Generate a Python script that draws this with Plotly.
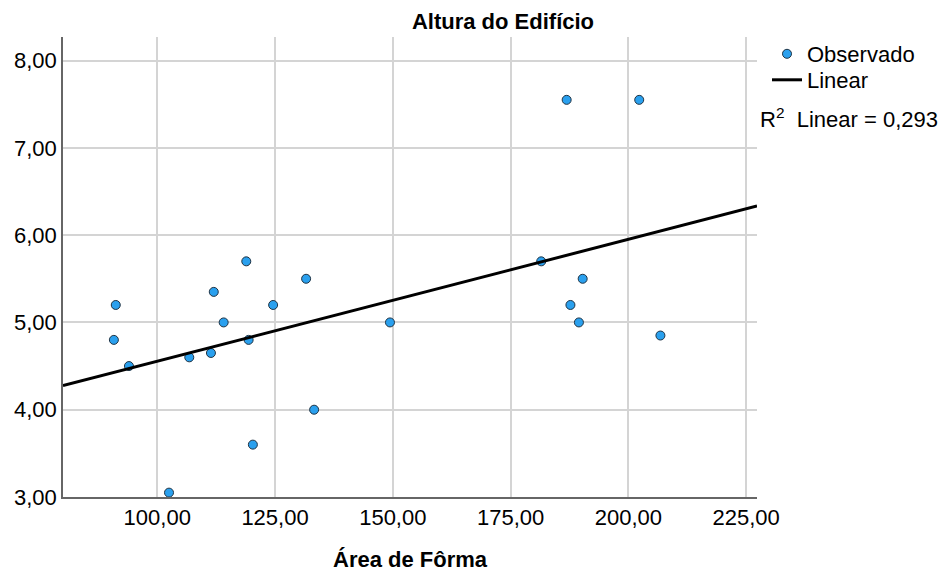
import numpy as np
import plotly.graph_objects as go

# Data
area_forma = [91.2, 90.8, 94.0, 102.5, 106.8, 111.4, 112.0, 114.1, 118.9, 119.4,
              120.3, 124.6, 131.6, 133.3, 149.4, 181.5, 186.9, 187.7, 189.5, 190.3,
              202.3, 206.8]
altura = [5.20, 4.80, 4.50, 3.05, 4.60, 4.65, 5.35, 5.00, 5.70, 4.80,
          3.60, 5.20, 5.50, 4.00, 5.00, 5.70, 7.55, 5.20, 5.00, 5.50,
          7.55, 4.85]
x_ticks = [100, 125, 150, 175, 200, 225]
x_tick_labels = ["100,00", "125,00", "150,00", "175,00", "200,00", "225,00"]
y_ticks = [3, 4, 5, 6, 7, 8]
y_tick_labels = ["3,00", "4,00", "5,00", "6,00", "7,00", "8,00"]
r2_label = "0,293"

x_range = [80, 227.3]
y_range = [3, 8.27]

slope, intercept = np.polyfit(area_forma, altura, 1)
line_x = np.array(x_range)
line_y = intercept + slope * line_x

FONT = "Liberation Sans, Arial, sans-serif"

fig = go.Figure()
fig.add_trace(go.Scatter(
    x=area_forma, y=altura, mode="markers", name="Observado",
    marker=dict(size=9, color="#2aa0ee", line=dict(color="#1f3344", width=1)),
    cliponaxis=False, legend="legend",
))
fig.add_trace(go.Scatter(
    x=line_x, y=line_y, mode="lines", name="Linear",
    line=dict(color="black", width=3), legend="legend2",
))

PLOT_H = 460
leg_common = dict(xanchor="left", yanchor="top", font=dict(size=22),
                  itemwidth=30, bgcolor="rgba(0,0,0,0)")

fig.update_layout(
    width=944, height=574,
    margin=dict(l=63, r=187, t=37, b=77),
    plot_bgcolor="white", paper_bgcolor="white",
    font=dict(family=FONT, size=22, color="black"),
    showlegend=True,
    legend=dict(x=1 + 10/694, y=(497 - 33) / PLOT_H, **leg_common),
    legend2=dict(x=1 + 10/694, y=(497 - 59) / PLOT_H, **leg_common),
    title=dict(text="<b>Altura do Edifício</b>", x=503/944, xanchor="center",
               y=1 - 21/574, yanchor="middle", font=dict(size=22)),
)
fig.update_xaxes(range=x_range, tickvals=x_ticks, ticktext=x_tick_labels,
                 showgrid=True, gridcolor="#d4d4d4", gridwidth=1.5,
                 showline=True, linecolor="#666666", linewidth=1.5,
                 zeroline=False, ticks="", tickfont=dict(size=22))
fig.update_yaxes(range=y_range, tickvals=y_ticks, ticktext=y_tick_labels,
                 showgrid=True, gridcolor="#d4d4d4", gridwidth=1.5,
                 showline=True, linecolor="#666666", linewidth=1.5,
                 zeroline=False, ticks="", tickfont=dict(size=22))

fig.add_annotation(text="<b>Área de Fôrma</b>", xref="paper", yref="paper",
                   x=0.5, y=(497 - 559) / PLOT_H, xanchor="center", yanchor="middle",
                   showarrow=False, font=dict(size=22))
fig.add_annotation(text="R<sup>2</sup>  Linear = " + r2_label, xref="paper", yref="paper",
                   x=1 + (758 - 757) / 694, y=(497 - 118) / PLOT_H, xanchor="left",
                   yanchor="middle", showarrow=False, font=dict(size=22))

fig.write_html("out.html", config={"displayModeBar": False},
               post_script="document.body.style.margin='0';")
